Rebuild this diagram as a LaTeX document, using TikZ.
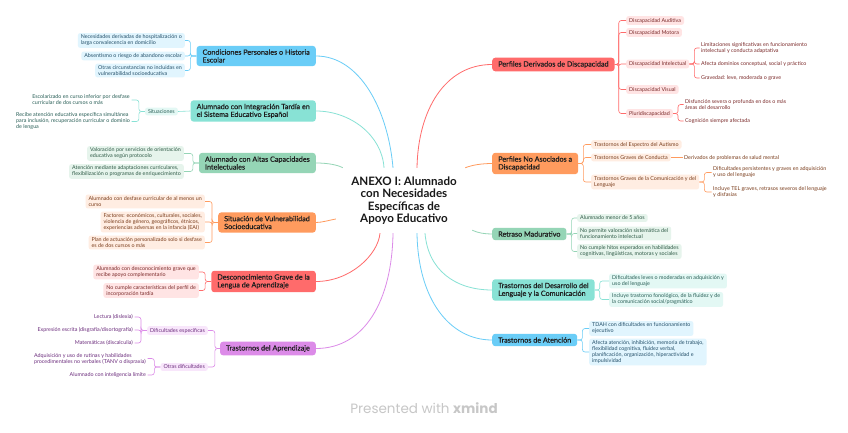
\documentclass[tikz,border=0pt]{standalone}
\usepackage{fontspec}
\setmainfont{Lato}
\newfontfamily\topicfont{Lato}[FakeBold=0.5]
\newfontfamily\brandfont{Poppins}
\usetikzlibrary{calc, positioning}

\definecolor{blueM}{HTML}{6ACDF7}
\definecolor{blueL}{HTML}{E1F5FE}
\definecolor{blueT}{HTML}{24506A}
\definecolor{tealM}{HTML}{88E2D5}
\definecolor{tealL}{HTML}{E3F8F4}
\definecolor{tealT}{HTML}{285E56}
\definecolor{greenM}{HTML}{95D5B6}
\definecolor{greenL}{HTML}{E6F4EC}
\definecolor{greenT}{HTML}{2E5A46}
\definecolor{orangeM}{HTML}{FF9B5E}
\definecolor{orangeL}{HTML}{FFEDE2}
\definecolor{orangeT}{HTML}{7A3D1C}
\definecolor{redM}{HTML}{FF6B6B}
\definecolor{redL}{HTML}{FFE4E4}
\definecolor{redT}{HTML}{7B2A2A}
\definecolor{violetM}{HTML}{DC8BE8}
\definecolor{violetL}{HTML}{F8E6FB}
\definecolor{violetT}{HTML}{6C2D7D}

\tikzset{
  root/.style={minimum width=136pt, minimum height=65pt, inner sep=0pt, align=center,
    font=\fontsize{11.6}{12.4}\selectfont\bfseries, text=black!90},
  topic/.style={rounded corners=3pt, inner xsep=6pt, inner ysep=3.5pt, align=left,
    font=\topicfont\fontsize{7.2}{7.8}\selectfont, text=black!88},
  subtopic/.style={rounded corners=2.5pt, inner xsep=3pt, inner ysep=2pt, align=left,
    font=\fontsize{5.35}{6}\selectfont},
  leaf/.style={inner xsep=1.5pt, inner ysep=1.5pt, align=left,
    font=\fontsize{5.35}{6}\selectfont},
  branch/.style={line width=0.8pt},
  bracket/.style={line width=0.6pt, rounded corners=2.5pt},
}

\begin{document}
\begin{tikzpicture}[x=1pt,y=-1pt]
\fill[white] (0,0) rectangle (848,433);
\useasboundingbox (0,0) rectangle (848,433);

% Central topic
\node[root] (root) at (404,200.5) {ANEXO I: Alumnado\\con Necesidades\\Específicas de\\Apoyo Educativo};

% Left main topics
\node[topic, fill=blueM, anchor=east] (cond) at (316,56) {Condiciones Personales o Historia\\Escolar};
\node[topic, fill=tealM, anchor=east] (integ) at (316,111) {Alumnado con Integración Tardía en\\el Sistema Educativo Español};
\node[topic, fill=greenM, anchor=east] (altas) at (316,163) {Alumnado con Altas Capacidades\\Intelectuales};
\node[topic, fill=orangeM, anchor=east] (vuln) at (316,222.5) {Situación de Vulnerabilidad\\Socioeducativa};
\node[topic, fill=redM, anchor=east] (desc) at (316,281.5) {Desconocimiento Grave de la\\Lengua de Aprendizaje};
\node[topic, fill=violetM, anchor=east] (aprend) at (316,348.5) {Trastornos del Aprendizaje};

% Right main topics
\node[topic, fill=redM, anchor=west] (perf) at (492,64.5) {Perfiles Derivados de Discapacidad};
\node[topic, fill=orangeM, anchor=west] (noaso) at (492,163.5) {Perfiles No Asociados a\\Discapacidad};
\node[topic, fill=greenM, anchor=west] (retr) at (492,234) {Retraso Madurativo};
\node[topic, fill=tealM, anchor=west] (desa) at (492,290) {Trastornos del Desarrollo del\\Lenguaje y la Comunicación};
\node[topic, fill=blueM, anchor=west] (aten) at (492,340) {Trastornos de Atención};

% Branches from the central topic
\draw[branch, blueM] ([xshift=-11pt]root.north) .. controls (388,110) and (360,56) .. (cond.east);
\draw[branch, tealM] ([xshift=-20pt]root.north) .. controls (382,135) and (350,111) .. (integ.east);
\draw[branch, greenM] ([xshift=7pt]root.north west) .. controls (338,165) and (328,163) .. (altas.east);
\draw[branch, orangeM] ([yshift=-18.5pt]root.west) .. controls (330,220) and (322,222.5) .. (vuln.east);
\draw[branch, redM] ([xshift=-24pt]root.south) .. controls (378,255) and (350,281.5) .. (desc.east);
\draw[branch, violetM] ([xshift=-11pt]root.south) .. controls (392,300) and (365,348.5) .. (aprend.east);
\draw[branch, redM] ([xshift=13pt]root.north) .. controls (418,110) and (445,64.5) .. (perf.west);
\draw[branch, orangeM] ([xshift=-7pt]root.north east) .. controls (472,165) and (482,163.5) .. (noaso.west);
\draw[branch, greenM] ([yshift=3pt]root.south east) .. controls (478,233) and (485,234) .. (retr.west);
\draw[branch, tealM] ([xshift=21pt]root.south) .. controls (428,270) and (455,290) .. (desa.west);
\draw[branch, blueM] ([xshift=13pt]root.south) .. controls (418,300) and (450,340) .. (aten.west);

% Condiciones personales
\node[subtopic, fill=blueL, text=blueT, anchor=east] (cond1) at (185,40.5) {Necesidades derivadas de hospitalización o\\larga convalecencia en domicilio};
\node[subtopic, fill=blueL, text=blueT, anchor=east] (cond2) at (185,56) {Absentismo o riesgo de abandono escolar};
\node[subtopic, fill=blueL, text=blueT, anchor=east] (cond3) at (185,70.5) {Otras circunstancias no incluidas en\\vulnerabilidad socioeducativa};
\foreach \c in {cond1,cond2,cond3}
  \draw[bracket, blueM] (cond.west) -- ++(-6,0) |- (\c.east);

% Integracion tardia
\node[subtopic, fill=tealL, text=tealT, anchor=east] (situ) at (178,111.5) {Situaciones};
\node[leaf, text=tealT, anchor=east] (situ1) at (131.5,100) {Escolarizado en curso inferior por desfase\\curricular de dos cursos o más};
\node[leaf, text=tealT, anchor=east] (situ2) at (131.5,121.5) {Recibe atención educativa específica simultánea\\para inclusión, recuperación curricular o dominio\\de lengua};
\draw[bracket, tealM] (integ.west) -- (situ.east);
\foreach \c in {situ1,situ2}
  \draw[bracket, tealM] (situ.west) -- ++(-6,0) |- (\c.east);

% Altas capacidades
\node[subtopic, fill=greenL, text=greenT, anchor=east] (altas1) at (184,153.5) {Valoración por servicios de orientación\\educativa según protocolo};
\node[subtopic, fill=greenL, text=greenT, anchor=east] (altas2) at (184,171.5) {Atención mediante adaptaciones curriculares,\\flexibilización o programas de enriquecimiento};
\foreach \c in {altas1,altas2}
  \draw[bracket, greenM] (altas.west) -- ++(-6,0) |- (\c.east);

% Vulnerabilidad socioeducativa
\node[subtopic, fill=orangeL, text=orangeT, anchor=east] (vuln1) at (205,201.5) {Alumnado con desfase curricular de al menos un\\curso};
\node[subtopic, fill=orangeL, text=orangeT, anchor=east] (vuln2) at (205,222) {Factores: económicos, culturales, sociales,\\violencia de género, geográficos, étnicos,\\experiencias adversas en la infancia (EAI)};
\node[subtopic, fill=orangeL, text=orangeT, anchor=east] (vuln3) at (205,242.5) {Plan de actuación personalizado solo si desfase\\es de dos cursos o más};
\foreach \c in {vuln1,vuln2,vuln3}
  \draw[bracket, orangeM] (vuln.west) -- ++(-6,0) |- (\c.east);

% Desconocimiento de la lengua
\node[subtopic, fill=redL, text=redT, anchor=east] (desc1) at (199,272) {Alumnado con desconocimiento grave que\\recibe apoyo complementario};
\node[subtopic, fill=redL, text=redT, anchor=east] (desc2) at (199,290.5) {No cumple características del perfil de\\incorporación tardía};
\foreach \c in {desc1,desc2}
  \draw[bracket, redM] (desc.west) -- ++(-6,0) |- (\c.east);

% Trastornos del aprendizaje
\node[subtopic, fill=violetL, text=violetT, anchor=east] (dific) at (208,330.5) {Dificultades específicas};
\node[subtopic, fill=violetL, text=violetT, anchor=east] (otras) at (208,367) {Otras dificultades};
\node[leaf, text=violetT, anchor=east] (dific1) at (134.5,317) {Lectura (dislexia)};
\node[leaf, text=violetT, anchor=east] (dific2) at (134.5,330) {Expresión escrita (disgrafía/disortografía)};
\node[leaf, text=violetT, anchor=east] (dific3) at (134.5,343) {Matemáticas (discalculia)};
\node[leaf, text=violetT, anchor=east] (otras1) at (147.5,358.5) {Adquisición y uso de rutinas y habilidades\\procedimentales no verbales (TANV o dispraxia)};
\node[leaf, text=violetT, anchor=east] (otras2) at (147.5,375) {Alumnado con inteligencia límite};
\foreach \c in {dific,otras}
  \draw[bracket, violetM] (aprend.west) -- ++(-5,0) |- (\c.east);
\foreach \c in {dific1,dific2,dific3}
  \draw[bracket, violetM] (dific.west) -- ++(-6,0) |- (\c.east);
\foreach \c in {otras1,otras2}
  \draw[bracket, violetM] (otras.west) -- ++(-6,0) |- (\c.east);

% Perfiles derivados de discapacidad
\node[subtopic, fill=redL, text=redT, anchor=west] (perf1) at (626,20.5) {Discapacidad Auditiva};
\node[subtopic, fill=redL, text=redT, anchor=west] (perf2) at (626,32.5) {Discapacidad Motora};
\node[subtopic, fill=redL, text=redT, anchor=west] (perf3) at (626,64) {Discapacidad Intelectual};
\node[subtopic, fill=redL, text=redT, anchor=west] (perf4) at (626,89.5) {Discapacidad Visual};
\node[subtopic, fill=redL, text=redT, anchor=west] (perf5) at (626,113.5) {Pluridiscapacidad};
\node[leaf, text=redT, anchor=west] (intel1) at (699.5,48) {Limitaciones significativas en funcionamiento\\intelectual y conducta adaptativa};
\node[leaf, text=redT, anchor=west] (intel2) at (699.5,64) {Afecta dominios conceptual, social y práctico};
\node[leaf, text=redT, anchor=west] (intel3) at (699.5,78) {Gravedad: leve, moderada o grave};
\node[leaf, text=redT, anchor=west] (pluri1) at (683.5,104.5) {Disfunción severa o profunda en dos o más\\áreas del desarrollo};
\node[leaf, text=redT, anchor=west] (pluri2) at (683.5,121) {Cognición siempre afectada};
\foreach \c in {perf1,perf2,perf3,perf4,perf5}
  \draw[bracket, redM] (perf.east) -- ++(4,0) |- (\c.west);
\foreach \c in {intel1,intel2,intel3}
  \draw[bracket, redM] (perf3.east) -- ++(5,0) |- (\c.west);
\foreach \c in {pluri1,pluri2}
  \draw[bracket, redM] (perf5.east) -- ++(5,0) |- (\c.west);

% Perfiles no asociados a discapacidad
\node[subtopic, fill=orangeL, text=orangeT, anchor=west] (noaso1) at (591,144.5) {Trastornos del Espectro del Autismo};
\node[subtopic, fill=orangeL, text=orangeT, anchor=west] (noaso2) at (591,157.5) {Trastornos Graves de Conducta};
\node[subtopic, fill=orangeL, text=orangeT, anchor=west] (noaso3) at (591,182) {Trastornos Graves de la Comunicación y del\\Lenguaje};
\node[leaf, text=orangeT, anchor=west] (conduc1) at (682.5,157.5) {Derivados de problemas de salud mental};
\node[leaf, text=orangeT, anchor=west] (comun1) at (711.5,172.5) {Dificultades persistentes y graves en adquisición\\y uso del lenguaje};
\node[leaf, text=orangeT, anchor=west] (comun2) at (711.5,192) {Incluye TEL graves, retrasos severos del lenguaje\\y disfasias};
\foreach \c in {noaso1,noaso2,noaso3}
  \draw[bracket, orangeM] (noaso.east) -- ++(5,0) |- (\c.west);
\draw[bracket, orangeM] (noaso2.east) -- (conduc1.west);
\foreach \c in {comun1,comun2}
  \draw[bracket, orangeM] (noaso3.east) -- ++(5,0) |- (\c.west);

% Retraso madurativo
\node[subtopic, fill=greenL, text=greenT, anchor=west] (retr1) at (577,218) {Alumnado menor de 5 años};
\node[subtopic, fill=greenL, text=greenT, anchor=west] (retr2) at (577,233.5) {No permite valoración sistemática del\\funcionamiento intelectual};
\node[subtopic, fill=greenL, text=greenT, anchor=west] (retr3) at (577,251.5) {No cumple hitos esperados en habilidades\\cognitivas, lingüísticas, motoras y sociales};
\foreach \c in {retr1,retr2,retr3}
  \draw[bracket, greenM] (retr.east) -- ++(5,0) |- (\c.west);

% Desarrollo del lenguaje
\node[subtopic, fill=tealL, text=tealT, anchor=west] (desa1) at (609,281) {Dificultades leves o moderadas en adquisición y\\uso del lenguaje};
\node[subtopic, fill=tealL, text=tealT, anchor=west] (desa2) at (609,299.5) {Incluye trastorno fonológico, de la fluidez y de\\la comunicación social/pragmático};
\foreach \c in {desa1,desa2}
  \draw[bracket, tealM] (desa.east) -- ++(5,0) |- (\c.west);

% Trastornos de atencion
\node[subtopic, fill=blueL, text=blueT, anchor=west] (aten1) at (589,328.5) {TDAH con dificultades en funcionamiento\\ejecutivo};
\node[subtopic, fill=blueL, text=blueT, anchor=west] (aten2) at (589,352) {Afecta atención, inhibición, memoria de trabajo,\\flexibilidad cognitiva, fluidez verbal,\\planificación, organización, hiperactividad e\\impulsividad};
\foreach \c in {aten1,aten2}
  \draw[bracket, blueM] (aten.east) -- ++(5,0) |- (\c.west);

% Footer
\node[font=\brandfont\fontsize{13.5}{15}\selectfont, text=black!22] (brand) at (424,408) {Presented with \textbf{xmind}};
\end{tikzpicture}
\end{document}
